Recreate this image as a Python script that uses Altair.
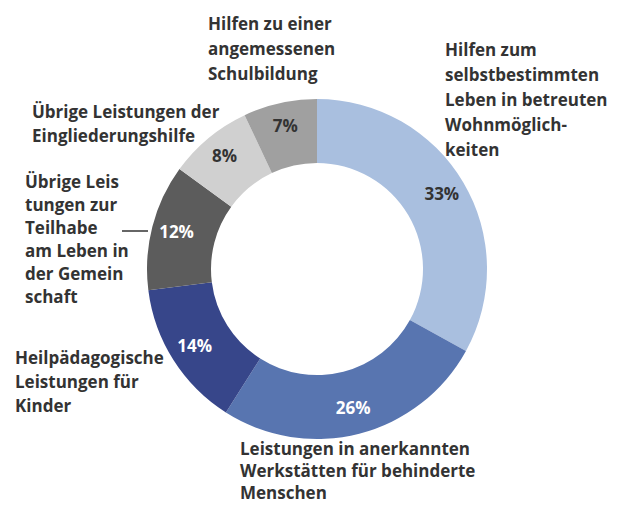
import altair as alt
import pandas as pd

categories = [
    "Hilfen zum selbstbestimmten Leben in betreuten Wohnmöglichkeiten",
    "Leistungen in anerkannten Werkstätten für behinderte Menschen",
    "Heilpädagogische Leistungen für Kinder",
    "Übrige Leistungen zur Teilhabe am Leben in der Gemeinschaft",
    "Übrige Leistungen der Eingliederungshilfe",
    "Hilfen zu einer angemessenen Schulbildung",
]
shares = [33, 26, 14, 12, 8, 7]
pct_labels = ["33%", "26%", "14%", "12%", "8%", "7%"]
colors = ["#a9bfdf", "#5875b0", "#37468a", "#5c5c5c", "#d0d0d0", "#a0a0a0"]
label_colors = ["#333333", "#ffffff", "#ffffff", "#ffffff", "#333333", "#333333"]

df = pd.DataFrame({
    "cat": categories,
    "share": shares,
    "pct": pct_labels,
    "order": list(range(len(shares))),
    "lc": label_colors,
})

CX, CY = 309, 261
FONT = "Open Sans"
FS = 17

base = alt.Chart(df).encode(
    theta=alt.Theta("share:Q", stack=True),
    order=alt.Order("order:Q"),
)

ring = base.mark_arc(innerRadius=106, outerRadius=170).encode(
    color=alt.Color("cat:N", scale=alt.Scale(domain=categories, range=colors), legend=None),
    x=alt.value(CX),
    y=alt.value(CY),
)

pct = base.mark_text(radius=145, font=FONT, fontSize=FS, fontWeight=700).encode(
    text="pct:N",
    color=alt.Color("lc:N", scale=None),
    x=alt.value(CX),
    y=alt.value(CY),
)

def label(lines, x, y, lh):
    return alt.Chart(df.head(1)).mark_text(
        text=lines, align="left", baseline="middle", lineHeight=lh,
        font=FONT, fontSize=FS, fontWeight=700, color="#333333",
    ).encode(x=alt.value(x), y=alt.value(y))

labels = [
    label(["Hilfen zum", "selbstbestimmten", "Leben in betreuten", "Wohnmöglich-", "keiten"], 437, 43, 25),
    label(["Hilfen zu einer", "angemessenen", "Schulbildung"], 200, 17, 25),
    label(["Übrige Leistungen der", "Eingliederungshilfe"], 24, 105, 24),
    label(["Übrige Leis", "tungen zur", "Teilhabe", "am Leben in", "der Gemein", "schaft"], 17, 175, 23),
    label(["Heilpädagogische", "Leistungen für", "Kinder"], 7, 351, 24),
    label(["Leistungen in anerkannten", "Werkstätten für behinderte", "Menschen"], 232, 442, 22),
]

leader = alt.Chart(df.head(1)).mark_rule(color="#333333", strokeWidth=1.5).encode(
    x=alt.value(114), x2=alt.value(140), y=alt.value(223)
)

chart = alt.layer(ring, pct, leader, *labels).properties(
    width=600, height=500, padding=0
).configure_view(stroke=None)

chart.save("out.html", embed_options={"renderer": "svg", "actions": False})
